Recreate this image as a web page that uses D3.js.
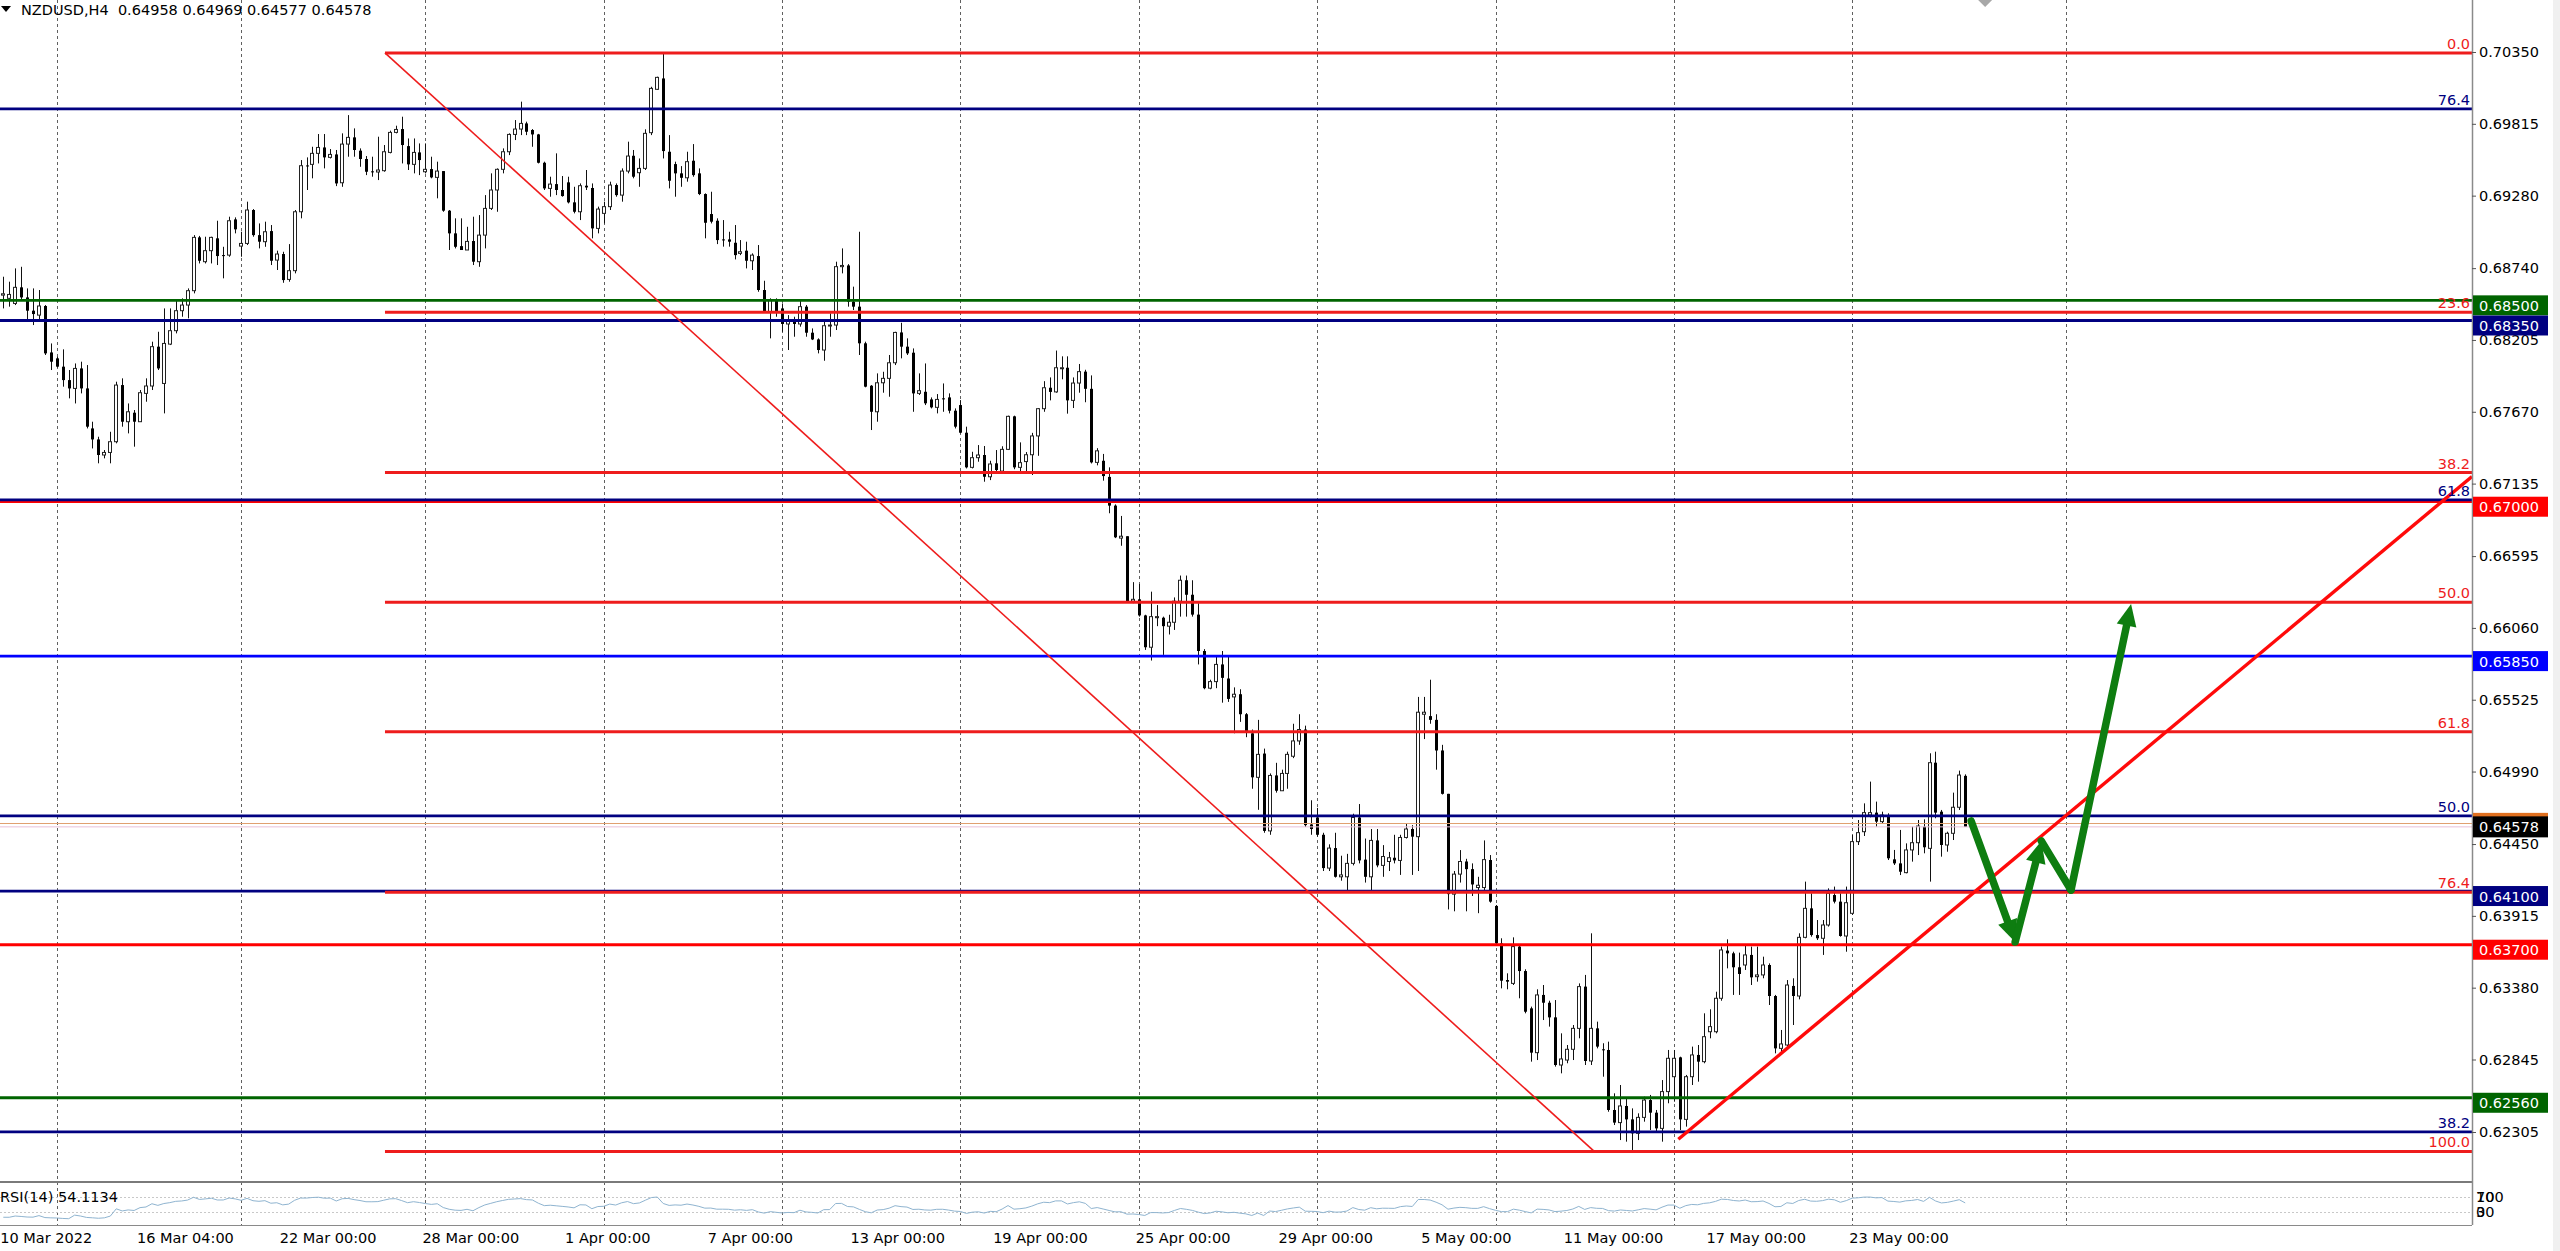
<!DOCTYPE html>
<html><head><meta charset="utf-8">
<script src="https://cdn.jsdelivr.net/npm/d3@7"></script>
<style>
html,body{margin:0;padding:0;background:#fff;overflow:hidden}
svg{display:block}
text{font-family:"DejaVu Sans",sans-serif;font-size:14.5px;white-space:pre}
</style>
</head><body>
<svg id="c" width="2560" height="1251"></svg>
<script>
// ---------------- DATA ----------------
const symbolTitle = "NZDUSD,H4";
const lastOHLC = ["0.64958","0.64969","0.64577","0.64578"];

const opens = [
.68539,.68515,.68477,.68597,.68522,.68423,.68390,.68458,.68112,.68068,
.68006,.67906,.67844,.67993,.67844,.67546,.67464,.67348,.67367,.67447,
.67869,.67596,.67663,.67596,.67807,.67862,.68155,.67881,.68174,.68274,
.68423,.68465,.68572,.68969,.68788,.68870,.68962,.68837,.68837,.69103,
.68904,.68924,.69173,.68986,.68937,.69016,.68800,.68845,.68656,.68721,
.69160,.69505,.69513,.69595,.69639,.69565,.69587,.69376,.69664,.69714,
.69615,.69553,.69461,.69456,.69466,.69602,.69751,.69776,.69649,.69513,
.69602,.69458,.69478,.69416,.69463,.69168,.68999,.68904,.68875,.68942,
.68788,.68986,.69185,.69322,.69476,.69607,.69736,.69776,.69818,.69769,
.69736,.69525,.69334,.69366,.69322,.69379,.69230,.69160,.69354,.69337,
.69036,.69148,.69198,.69359,.69284,.69463,.69577,.69451,.69483,.69749,
.70072,.70153,.69607,.69515,.69446,.69413,.69540,.69446,.69292,.69143,
.69093,.68954,.68954,.68929,.68850,.68870,.68795,.68830,.68577,.68415,
.68502,.68440,.68324,.68346,.68324,.68453,.68259,.68209,.68130,.68309,
.68316,.68751,.68760,.68490,.68453,.68180,.67864,.67670,.67886,.67919,
.68035,.68261,.68155,.68110,.67807,.67819,.67762,.67703,.67770,.67777,
.67678,.67720,.67514,.67256,.67328,.67348,.67186,.67286,.67228,.67390,
.67636,.67256,.67299,.67350,.67490,.67693,.67849,.67818,.67992,.67998,
.67755,.67884,.67969,.67841,.67293,.67305,.67185,.66971,.66729,.66743,
.66259,.66273,.66153,.65916,.66136,.66136,.66073,.66102,.66259,.66415,
.66307,.66159,.65888,.65611,.65660,.65788,.65683,.65546,.65566,.65417,
.65275,.64947,.65124,.64548,.64961,.64847,.64976,.65104,.65218,.65303,
.64596,.64648,.64519,.64271,.64420,.64206,.64206,.64306,.64648,.64334,
.64206,.64477,.64291,.64320,.64348,.64328,.64499,.64562,.64505,.65417,
.65403,.65375,.65147,.64824,.64077,.64226,.64320,.64263,.64126,.64126,
.64331,.63989,.63710,.63437,.63412,.63686,.63504,.63226,.62896,.63326,
.63268,.63159,.62804,.62841,.62921,.63077,.63388,.62834,.63077,.62921,
.62916,.62469,.62375,.62499,.62399,.62295,.62414,.62543,.62449,.62332,
.62606,.62717,.62861,.62399,.62717,.62879,.62829,.63052,.63052,.63301,
.63656,.63636,.63532,.63549,.63624,.63462,.63475,.63549,.63318,.62928,
.62953,.63393,.63318,.63755,.63971,.63772,.63748,.63847,.64070,.64021,
.63765,.63934,.64468,.64542,.64666,.64684,.64617,.64666,.64336,.64306,
.64237,.64406,.64460,.64579,.64418,.65056,.64691,.64443,.64530,.64724,
.64958];

const highs = [
.68676,.68639,.68738,.68750,.68589,.68589,.68577,.68465,.68179,.68080,
.68135,.67981,.68030,.68043,.68018,.67596,.67484,.67385,.67521,.67894,
.67919,.67732,.67683,.67832,.67919,.68192,.68266,.68440,.68440,.68502,
.68515,.68589,.68986,.68980,.68974,.68974,.69093,.68899,.69123,.69118,
.69011,.69235,.69180,.69073,.69086,.69061,.68870,.68862,.68919,.69173,
.69545,.69565,.69644,.69739,.69739,.69627,.69620,.69744,.69880,.69781,
.69632,.69575,.69570,.69719,.69657,.69764,.69801,.69868,.69706,.69706,
.69669,.69669,.69570,.69533,.69463,.69173,.69111,.69111,.69048,.69123,
.69135,.69284,.69446,.69483,.69632,.69744,.69843,.69980,.69831,.69776,
.69740,.69533,.69421,.69595,.69426,.69421,.69346,.69371,.69471,.69371,
.69198,.69235,.69384,.69371,.69483,.69682,.69620,.69557,.69774,.70091,
.70166,.70340,.69731,.69533,.69500,.69607,.69664,.69483,.69297,.69309,
.69111,.69098,.69011,.69061,.68949,.68937,.68850,.68912,.68646,.68515,
.68515,.68477,.68390,.68378,.68502,.68465,.68291,.68217,.68341,.68403,
.68788,.68887,.68770,.68602,.69011,.68192,.67869,.67956,.67968,.68093,
.68266,.68333,.68217,.68142,.67956,.68030,.67777,.67802,.67881,.67807,
.67695,.67757,.67559,.67372,.67422,.67415,.67305,.67385,.67413,.67641,
.67641,.67442,.67370,.67513,.67698,.67898,.67926,.68126,.68083,.68083,
.67926,.68026,.67983,.67941,.67399,.67356,.67256,.66980,.66894,.66743,
.66401,.66387,.66158,.66330,.66230,.66144,.66158,.66287,.66450,.66450,
.66415,.66244,.65902,.65674,.65845,.65888,.65845,.65617,.65603,.65426,
.65303,.65375,.65161,.64976,.65055,.65004,.65138,.65346,.65417,.65332,
.64776,.64719,.64534,.64448,.64534,.64363,.64377,.64676,.64748,.64491,
.64562,.64562,.64442,.64391,.64519,.64519,.64605,.64591,.65546,.65546,
.65674,.65417,.65189,.64824,.64249,.64405,.64340,.64306,.64206,.64477,
.64368,.63996,.63748,.63487,.63755,.63691,.63517,.63239,.63368,.63400,
.63283,.63288,.63040,.62953,.63102,.63412,.63475,.63785,.63127,.62966,
.62978,.62593,.62655,.62556,.62481,.62444,.62568,.62581,.62469,.62692,
.62916,.62916,.62866,.62730,.62941,.62953,.63189,.63219,.63350,.63686,
.63740,.63648,.63641,.63691,.63686,.63686,.63611,.63561,.63326,.63065,
.63437,.63450,.63785,.64170,.64083,.63884,.63884,.64120,.64133,.64083,
.64133,.64517,.64629,.64753,.64915,.64766,.64691,.64679,.64406,.64555,
.64455,.64579,.64629,.64634,.65126,.65138,.64704,.64542,.64833,.64997,
.64969];

const lows = [
.68440,.68453,.68465,.68502,.68341,.68316,.68353,.68093,.67981,.68000,
.67857,.67770,.67732,.67807,.67546,.67397,.67286,.67323,.67286,.67435,
.67559,.67509,.67410,.67596,.67745,.67832,.67981,.67658,.68167,.68254,
.68378,.68366,.68552,.68775,.68775,.68775,.68763,.68664,.68825,.68999,
.68825,.68912,.68974,.68887,.68899,.68763,.68726,.68631,.68639,.68701,
.69111,.69322,.69409,.69520,.69483,.69557,.69351,.69346,.69570,.69570,
.69495,.69433,.69421,.69396,.69458,.69595,.69744,.69520,.69471,.69446,
.69433,.69446,.69409,.69260,.69160,.68875,.68887,.68875,.68875,.68763,
.68750,.68887,.69173,.69160,.69446,.69582,.69694,.69731,.69731,.69644,
.69520,.69322,.69272,.69284,.69272,.69222,.69148,.69098,.69322,.68962,
.68999,.69073,.69173,.69272,.69235,.69446,.69409,.69346,.69471,.69731,
.70067,.69557,.69334,.69272,.69346,.69384,.69421,.69284,.68962,.69073,
.68919,.68900,.68900,.68805,.68837,.68738,.68726,.68564,.68408,.68217,
.68378,.68266,.68130,.68229,.68304,.68229,.68204,.68105,.68050,.68229,
.68279,.68701,.68453,.68428,.68093,.67852,.67534,.67596,.67812,.67782,
.68018,.68068,.68093,.67670,.67795,.67720,.67695,.67658,.67670,.67658,
.67546,.67509,.67248,.67248,.67298,.67149,.67161,.67223,.67214,.67385,
.67242,.67228,.67228,.67199,.67342,.67670,.67755,.67812,.67912,.67656,
.67698,.67812,.67741,.67285,.67271,.67157,.66914,.66729,.66672,.66250,
.66244,.66144,.65896,.65817,.66073,.65859,.66011,.66045,.66144,.66144,
.66144,.65788,.65603,.65603,.65611,.65503,.65509,.65275,.65360,.65246,
.64862,.64705,.64534,.64519,.64833,.64847,.64862,.65090,.65189,.64577,
.64519,.64505,.64249,.64249,.64200,.64177,.64106,.64291,.64306,.64163,
.64106,.64277,.64206,.64249,.64306,.64220,.64491,.64220,.64249,.65232,
.65346,.65004,.64819,.63963,.63949,.64163,.63949,.64063,.63935,.64106,
.64013,.63705,.63375,.63368,.63400,.63301,.63189,.62829,.62841,.63139,
.63090,.62792,.62742,.62817,.62841,.63003,.62804,.62804,.62928,.62717,
.62456,.62357,.62245,.62233,.62171,.62245,.62382,.62320,.62307,.62233,
.62519,.62531,.62320,.62345,.62655,.62680,.62817,.63003,.63040,.63283,
.63524,.63326,.63326,.63512,.63400,.63425,.63450,.63251,.62891,.62891,
.62941,.63102,.63293,.63748,.63760,.63735,.63624,.63835,.64008,.63760,
.63648,.63922,.64443,.64510,.64649,.64579,.64604,.64331,.64294,.64219,
.64232,.64319,.64368,.64381,.64170,.64642,.64356,.64393,.64480,.64704,
.64577];

const closes = [
.68549,.68544,.68597,.68522,.68423,.68398,.68458,.68105,.68043,.68006,
.67906,.67844,.67993,.67844,.67559,.67464,.67348,.67367,.67447,.67869,
.67596,.67670,.67596,.67812,.67862,.68155,.67993,.68179,.68274,.68423,
.68465,.68572,.68969,.68795,.68870,.68969,.68830,.68830,.69093,.69029,
.68924,.69173,.68986,.68937,.69011,.68795,.68845,.68651,.68721,.69160,
.69503,.69500,.69595,.69639,.69565,.69587,.69371,.69664,.69714,.69620,
.69553,.69458,.69456,.69471,.69607,.69751,.69773,.69657,.69513,.69602,
.69545,.69476,.69416,.69463,.69168,.68999,.68899,.68875,.68939,.68788,
.68986,.69185,.69322,.69476,.69607,.69736,.69776,.69818,.69756,.69736,
.69525,.69334,.69366,.69322,.69277,.69230,.69160,.69354,.69341,.69036,
.69180,.69198,.69359,.69284,.69463,.69575,.69421,.69483,.69744,.70079,
.70161,.69612,.69391,.69446,.69413,.69533,.69433,.69292,.69078,.69086,
.68949,.68949,.68937,.68837,.68862,.68795,.68837,.68577,.68415,.68502,
.68415,.68324,.68353,.68324,.68453,.68259,.68209,.68130,.68311,.68316,
.68751,.68760,.68490,.68453,.68180,.67857,.67670,.67886,.67919,.68035,
.68261,.68155,.68105,.67807,.67827,.67733,.67703,.67762,.67765,.67678,
.67559,.67514,.67256,.67328,.67348,.67186,.67281,.67236,.67390,.67636,
.67256,.67291,.67350,.67490,.67693,.67849,.67818,.67998,.67998,.67755,
.67884,.67969,.67841,.67293,.67379,.67191,.66971,.66735,.66743,.66259,
.66273,.66153,.65916,.66144,.66144,.66073,.66102,.66259,.66415,.66307,
.66159,.65888,.65611,.65660,.65788,.65688,.65531,.65566,.65417,.65289,
.64947,.65118,.64548,.64961,.64847,.64976,.65118,.65218,.65303,.64591,
.64562,.64519,.64271,.64420,.64206,.64220,.64306,.64648,.64328,.64206,
.64477,.64291,.64357,.64348,.64328,.64499,.64562,.64505,.65432,.65432,
.65375,.65147,.64824,.64077,.64226,.64320,.64263,.64149,.64143,.64334,
.64021,.63710,.63432,.63425,.63686,.63504,.63201,.62896,.63326,.63268,
.63159,.62804,.62849,.62921,.63077,.63388,.62834,.63077,.62941,.62916,
.62469,.62375,.62499,.62399,.62295,.62414,.62543,.62449,.62332,.62606,
.62854,.62854,.62399,.62717,.62879,.62829,.63015,.63090,.63301,.63661,
.63636,.63532,.63482,.63624,.63457,.63475,.63549,.63318,.62928,.62961,
.63400,.63318,.63755,.63971,.63772,.63748,.63847,.64083,.64021,.63765,
.64013,.64468,.64535,.64684,.64684,.64617,.64666,.64344,.64306,.64244,
.64406,.64460,.64584,.64426,.65056,.64684,.64443,.64530,.64724,.64964,
.64578];

const priceTicks = [0.70350,0.69815,0.69280,0.68740,0.68205,0.67670,0.67135,0.66595,
  0.66060,0.65525,0.64990,0.64450,0.63915,0.63380,0.62845,0.62305];

const dateLabels = ["10 Mar 2022","16 Mar 04:00","22 Mar 00:00","28 Mar 00:00","1 Apr 00:00",
  "7 Apr 00:00","13 Apr 00:00","19 Apr 00:00","25 Apr 00:00","29 Apr 00:00","5 May 00:00",
  "11 May 00:00","17 May 00:00","23 May 00:00"];
const dateLabelBars = [0,23,47,71,95,119,143,167,191,215,239,263,287,311];
const gridBars = [9,40,71,101,131,161,191,221,251,281,311,347];

// red Fibonacci retracement (anchored bar indices / prices)
const redFibStartBar = 64.2, redFibEndBar = 267.6;
const redFibHigh = 0.70343, redFibLow = 0.62160;
const redFibLevels = [0, 23.6, 38.2, 50.0, 61.8, 76.4, 100.0];
// navy Fibonacci retracement (anchors lie off-screen)
const blueFibZero = 0.54685, blueFibHundred = 0.74634;
const blueFibLevels = [38.2, 50.0, 61.8, 76.4];

// horizontal lines
const hLevels = [0.68500, 0.68350, 0.67000, 0.65850, 0.64100, 0.63700, 0.62560];
const hColors = ["#006400", "#000080", "#ff0000", "#0000ff", "#000080", "#ff0000", "#006400"];

const bidPrice = 0.64578, askPrice = 0.64603;

// trend line (ray) and green projection arrows: [bar index, price]
const trendPts = [[281.75, 0.62251], [332.5, 0.64128]];
const arrowPts = [[331.0, 0.64622], [338.4, 0.63720], [342.8, 0.64473], [347.8, 0.64108], [357.9, 0.66238]];
const arrowHeadsOn = [true, true, false, true];

const rsiPeriod = 14;
const rsiLevels = [70, 30];
const rsiTitle = "RSI(14) 54.1134";

// ---------------- LAYOUT ----------------
const W = 2560, H = 1251;
const AX = 2472;           // price axis x
const MAIN_BOTTOM = 1182;  // separator
const RSI_TOP = 1183, RSI_BOTTOM = 1225;
const RED = "#ee1c1c", NAVY = "#000080";

const svg = d3.select("#c");
svg.append("rect").attr("width", W).attr("height", H).attr("fill", "#fff");
svg.append("rect").attr("x", 2553).attr("y", 0).attr("width", 7).attr("height", H).attr("fill", "#f0f0f0");

const x = d3.scaleLinear().domain([0, 330]).range([3.3, 1965.2]);
const y = d3.scaleLinear().domain([0.62305, 0.70350]).range([1132, 52]);
const yr = d3.scaleLinear().domain([0, 100]).range([1224, 1185]);

const defs = svg.append("defs");
defs.append("clipPath").attr("id", "mainClip").append("rect")
  .attr("x", 0).attr("y", 0).attr("width", AX).attr("height", MAIN_BOTTOM - 1);
defs.append("clipPath").attr("id", "rsiClip").append("rect")
  .attr("x", 0).attr("y", RSI_TOP).attr("width", AX).attr("height", RSI_BOTTOM - RSI_TOP);

// grid
svg.append("g").selectAll("line").data(gridBars).join("line")
  .attr("x1", d => Math.round(x(d)) + 0.5).attr("x2", d => Math.round(x(d)) + 0.5)
  .attr("y1", 0).attr("y2", RSI_BOTTOM)
  .attr("stroke", "#606060").attr("stroke-width", 1).attr("stroke-dasharray", "3,3");

const main = svg.append("g").attr("clip-path", "url(#mainClip)");

// candles
const bars = d3.range(closes.length).map(i => ({i, o: opens[i], h: highs[i], l: lows[i], c: closes[i]}));
const cg = main.append("g");
const cs = cg.selectAll("g").data(bars).join("g");
cs.append("line")
  .attr("x1", d => Math.round(x(d.i)) + 0.5).attr("x2", d => Math.round(x(d.i)) + 0.5)
  .attr("y1", d => y(Math.max(d.h, d.o, d.c))).attr("y2", d => y(Math.min(d.l, d.o, d.c)))
  .attr("stroke", "#111").attr("stroke-width", 1);
cs.append("rect")
  .attr("x", d => d.c >= d.o ? Math.round(x(d.i)) - 1.5 : Math.round(x(d.i)) - 1)
  .attr("width", 3)
  .attr("y", d => y(Math.max(d.o, d.c)))
  .attr("height", d => Math.max(1, Math.abs(y(d.o) - y(d.c))))
  .attr("fill", d => d.c >= d.o ? "#fff" : "#000")
  .attr("stroke", d => d.c >= d.o ? "#222" : "none")
  .attr("stroke-width", 1);

// bid / ask lines
main.append("line").attr("x1", 0).attr("x2", AX).attr("y1", y(askPrice)).attr("y2", y(askPrice))
  .attr("stroke", "#e0a070").attr("stroke-width", 1);
main.append("line").attr("x1", 0).attr("x2", AX).attr("y1", y(bidPrice)).attr("y2", y(bidPrice))
  .attr("stroke", "#e8c0d8").attr("stroke-width", 1);

// horizontal lines
main.append("g").selectAll("line").data(hLevels).join("line")
  .attr("x1", 0).attr("x2", AX).attr("y1", d => y(d)).attr("y2", d => y(d))
  .attr("stroke", (d, i) => hColors[i]).attr("stroke-width", 2.8);

// navy fib
const blueFibPrice = lv => blueFibZero + (blueFibHundred - blueFibZero) * lv / 100;
main.append("g").selectAll("line").data(blueFibLevels).join("line")
  .attr("x1", 0).attr("x2", AX).attr("y1", d => y(blueFibPrice(d))).attr("y2", d => y(blueFibPrice(d)))
  .attr("stroke", NAVY).attr("stroke-width", 2.8);

// red fib
const redFibPrice = lv => redFibHigh - (redFibHigh - redFibLow) * lv / 100;
main.append("g").selectAll("line").data(redFibLevels).join("line")
  .attr("x1", x(redFibStartBar)).attr("x2", AX).attr("y1", d => y(redFibPrice(d))).attr("y2", d => y(redFibPrice(d)))
  .attr("stroke", RED).attr("stroke-width", 3);
main.append("line")
  .attr("x1", x(redFibStartBar)).attr("y1", y(redFibHigh))
  .attr("x2", x(redFibEndBar)).attr("y2", y(redFibLow))
  .attr("stroke", RED).attr("stroke-width", 1.6);

// trend ray
{
  const [a, b] = trendPts;
  const x1 = x(a[0]), y1 = y(a[1]), x2 = x(b[0]), y2 = y(b[1]);
  const k = (y2 - y1) / (x2 - x1);
  main.append("line").attr("x1", x1).attr("y1", y1).attr("x2", AX).attr("y2", y1 + k * (AX - x1))
    .attr("stroke", "#ff0a0a").attr("stroke-width", 3.4);
}

// green arrows
{
  const GREEN = "#0e7d10";
  const pts = arrowPts.map(p => [x(p[0]), y(p[1])]);
  const ag = main.append("g");
  for (let s = 0; s < pts.length - 1; s++) {
    const [x1, y1] = pts[s], [x2, y2] = pts[s + 1];
    const dx = x2 - x1, dy = y2 - y1, L = Math.hypot(dx, dy);
    const ux = dx / L, uy = dy / L;
    const head = arrowHeadsOn[s] ? 22 : 0;
    ag.append("line").attr("x1", x1).attr("y1", y1)
      .attr("x2", x2 - ux * head * 0.6).attr("y2", y2 - uy * head * 0.6)
      .attr("stroke", GREEN).attr("stroke-width", 7.5).attr("stroke-linecap", "round");
    if (arrowHeadsOn[s]) {
      const bx = x2 - ux * head, by = y2 - uy * head, w = 10;
      ag.append("polygon")
        .attr("points", [[x2, y2], [bx - uy * w, by + ux * w], [bx + uy * w, by - ux * w]].map(p => p.join(",")).join(" "))
        .attr("fill", GREEN);
    }
  }
}

// separators and panels
svg.append("line").attr("x1", 0).attr("x2", AX).attr("y1", MAIN_BOTTOM).attr("y2", MAIN_BOTTOM)
  .attr("stroke", "#7a7a7a").attr("stroke-width", 2);
svg.append("line").attr("x1", 0).attr("x2", AX).attr("y1", RSI_BOTTOM + 0.5).attr("y2", RSI_BOTTOM + 0.5)
  .attr("stroke", "#8a8a8a").attr("stroke-width", 1);
svg.append("line").attr("x1", AX + 0.5).attr("x2", AX + 0.5).attr("y1", 0).attr("y2", RSI_BOTTOM)
  .attr("stroke", "#8a8a8a").attr("stroke-width", 1.5);

// RSI (Wilder, computed from closes)
const rsi = [];
{
  let g = 0, l = 0;
  for (let i = 1; i <= rsiPeriod; i++) { const d = closes[i] - closes[i - 1]; if (d > 0) g += d; else l -= d; }
  let ag = g / rsiPeriod, al = l / rsiPeriod;
  rsi[0] = 100 - 100 / (1 + ag / al);
  for (let i = 1; i < closes.length; i++) {
    const d = closes[i] - closes[i - 1];
    ag = (ag * (rsiPeriod - 1) + Math.max(d, 0)) / rsiPeriod;
    al = (al * (rsiPeriod - 1) + Math.max(-d, 0)) / rsiPeriod;
    rsi[i] = al === 0 ? 100 : 100 - 100 / (1 + ag / al);
  }
}
const rg = svg.append("g").attr("clip-path", "url(#rsiClip)");
rg.selectAll("line.lvl").data(rsiLevels).join("line").attr("class", "lvl")
  .attr("x1", 0).attr("x2", AX).attr("y1", d => Math.round(yr(d)) + 0.5).attr("y2", d => Math.round(yr(d)) + 0.5)
  .attr("stroke", "#c8c8c8").attr("stroke-dasharray", "2,2");
rg.append("path").datum(rsi)
  .attr("d", d3.line().x((d, i) => x(i)).y(d => yr(d)))
  .attr("fill", "none").attr("stroke", "#8fb4d0").attr("stroke-width", 1);
svg.append("text").attr("x", 0).attr("y", 1197).attr("dominant-baseline", "central").attr("fill", "#000").text(rsiTitle);
// RSI scale labels (drawn on top of each other, as in the terminal)
[["100", 70], ["70", 70], ["30", 30], ["0", 30]].forEach(([t, v]) => {
  svg.append("text").attr("x", AX + 4).attr("y", yr(v)).attr("dominant-baseline", "central").attr("fill", "#000").text(t);
});

// price axis
const axis = d3.axisRight(y).tickValues(priceTicks).tickFormat(d3.format(".5f")).tickSize(4).tickPadding(3);
const axG = svg.append("g").attr("transform", `translate(${AX},0)`).call(axis);
axG.select(".domain").remove();
axG.selectAll(".tick line").attr("stroke", "#555");
axG.selectAll("text").attr("font-size", "14.5px").attr("font-family", "DejaVu Sans, sans-serif").attr("fill", "#000");

// price boxes
function box(price, color, cy, h) {
  svg.append("rect").attr("x", AX + 1).attr("y", cy - h / 2).attr("width", 75).attr("height", h).attr("fill", color);
  svg.append("text").attr("x", AX + 7).attr("y", cy + 0.5).attr("dominant-baseline", "central")
    .attr("fill", "#fff").text(d3.format(".5f")(price));
}
hLevels.forEach((p, i) => box(p, hColors[i], y(p) + 5, 20));
box(askPrice, "#e07020", y(bidPrice) - 3.5, 21);
box(bidPrice, "#000", y(bidPrice), 21);

// fib level labels
svg.append("g").selectAll("text").data(redFibLevels).join("text")
  .attr("x", AX - 2).attr("y", d => y(redFibPrice(d)) - 4).attr("text-anchor", "end")
  .attr("font-size", "15px").attr("fill", RED).text(d => d3.format(".1f")(d));
svg.append("g").selectAll("text").data(blueFibLevels).join("text")
  .attr("x", AX - 2).attr("y", d => y(blueFibPrice(d)) - 4).attr("text-anchor", "end")
  .attr("font-size", "15px").attr("fill", NAVY).text(d => d3.format(".1f")(d));

// header
svg.append("polygon").attr("points", "1,6 11,6 6,12").attr("fill", "#000");
svg.append("text").attr("x", 21).attr("y", 10).attr("dominant-baseline", "central").attr("fill", "#000")
  .text(symbolTitle + "  " + lastOHLC.join(" "));

// shift marker
svg.append("polygon").attr("points", `${x(331.5) + 4},0 ${x(331.5) + 18},0 ${x(331.5) + 11},7`).attr("fill", "#a8a8a8");

// date labels
svg.append("g").selectAll("text").data(dateLabels).join("text")
  .attr("x", (d, i) => Math.max(0, x(dateLabelBars[i]) - 3)).attr("y", 1238)
  .attr("dominant-baseline", "central").attr("fill", "#000").text(d => d);
</script>
</body></html>
